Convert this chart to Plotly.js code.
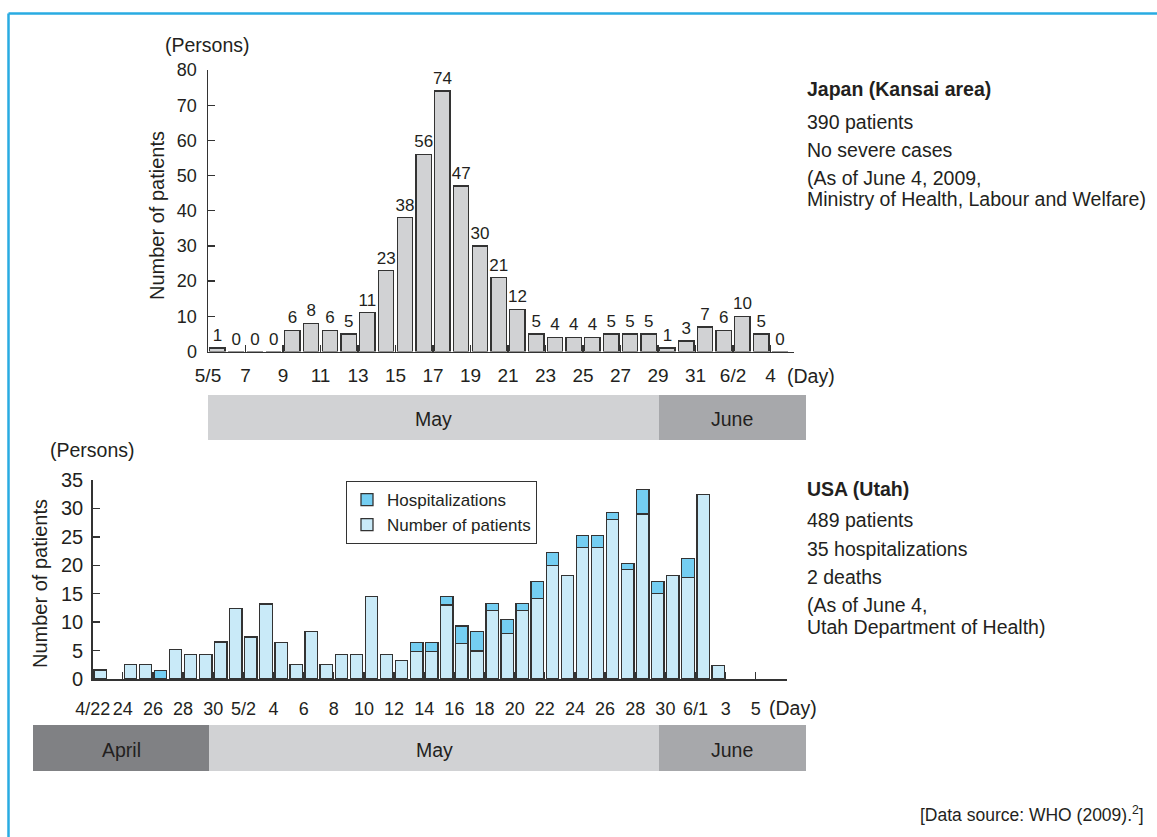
<!DOCTYPE html>
<html><head><meta charset="utf-8">
<script src="https://cdn.plot.ly/plotly-3.0.1.min.js"></script>
<style>html,body{margin:0;padding:0;background:#fff;} #chart{width:1157px;height:837px;}</style>
</head><body><div id="chart"></div>
<script>
// ---- Japan (Kansai area) ----
const japanDates = ['5/5','5/6','5/7','5/8','5/9','5/10','5/11','5/12','5/13','5/14','5/15','5/16','5/17','5/18','5/19','5/20','5/21','5/22','5/23','5/24','5/25','5/26','5/27','5/28','5/29','5/30','5/31','6/1','6/2','6/3','6/4'];
const japanPatients = [1,0,0,0,6,8,6,5,11,23,38,56,74,47,30,21,12,5,4,4,4,5,5,5,1,3,7,6,10,5,0];
const japanTickLabels = ['5/5','7','9','11','13','15','17','19','21','23','25','27','29','31','6/2','4'];

// ---- USA (Utah) ----
const utahDates = ['4/22','4/23','4/24','4/25','4/26','4/27','4/28','4/29','4/30','5/1','5/2','5/3','5/4','5/5','5/6','5/7','5/8','5/9','5/10','5/11','5/12','5/13','5/14','5/15','5/16','5/17','5/18','5/19','5/20','5/21','5/22','5/23','5/24','5/25','5/26','5/27','5/28','5/29','5/30','5/31','6/1','6/2','6/3','6/4','6/5'];
const utahPatients = [1.6,0,2.5,2.5,0,5.2,4.3,4.3,6.5,12.4,7.4,13.2,6.4,2.5,8.3,2.5,4.3,4.3,14.5,4.3,3.3,4.8,4.8,13.0,6.2,4.9,12.0,8.0,12.0,14.2,20.0,18.2,23.1,23.1,28.1,19.2,29.0,15.1,18.2,17.9,32.4,2.4,0,0,0];
const utahHospitalizations = [0,0,0,0,1.5,0,0,0,0,0,0,0,0,0,0,0,0,0,0,0,0,1.6,1.6,1.5,3.1,3.4,1.3,2.5,1.3,3.0,2.2,0,2.1,2.1,1.2,1.1,4.3,2.1,0,3.3,0,0,0,0,0];
const utahTickLabels = ['4/22','24','26','28','30','5/2','4','6','8','10','12','14','16','18','20','22','24','26','28','30','6/1','3','5'];

const W = 1157, H = 837;
const px = x => x / W;
const py = y => 1 - y / H;
const FONT = 'Liberation Sans, Arial, Helvetica, sans-serif';
const TXT = '#231f20';
const AX = '#333333';

const traces = [
  {
    type: 'bar', xaxis: 'x', yaxis: 'y', showlegend: false,
    x: japanDates.map((_, i) => i), y: japanPatients,
    hovertext: japanDates,
    text: japanPatients.map(String), textposition: 'outside', cliponaxis: false,
    constraintext: 'none',
    textfont: {size: 17, color: TXT, family: FONT},
    marker: {color: '#d1d2d4', line: {color: AX, width: 1.3}}
  },
  {
    type: 'bar', xaxis: 'x2', yaxis: 'y2', name: 'Number of patients',
    x: utahDates.map((_, i) => i), y: utahPatients.map(v => v || null),
    hovertext: utahDates,
    marker: {color: '#c9eaf8', line: {color: AX, width: 1.3}}
  },
  {
    type: 'bar', xaxis: 'x2', yaxis: 'y2', name: 'Hospitalizations',
    x: utahDates.map((_, i) => i), y: utahHospitalizations.map(v => v || null),
    hovertext: utahDates,
    marker: {color: '#74cef2', line: {color: AX, width: 1.3}}
  }
];

const axisCommon = {
  ticks: 'inside', ticklen: 7, tickwidth: 1.3, tickcolor: AX,
  showline: true, linecolor: AX, linewidth: 1.5,
  showgrid: false, zeroline: false, fixedrange: true,
  tickfont: {size: 17, color: TXT, family: FONT}
};

const ann = (x, y, text, opts = {}) => Object.assign({
  xref: 'paper', yref: 'paper', x: px(x), y: py(y), text: text,
  showarrow: false, xanchor: 'center', yanchor: 'middle',
  font: {size: 19.5, color: TXT, family: FONT}
}, opts);

const rect = (x0, y0, x1, y1, color) => ({
  type: 'rect', xref: 'paper', yref: 'paper', layer: 'below',
  x0: px(x0), x1: px(x1), y0: py(y1), y1: py(y0),
  fillcolor: color, line: {width: 0}
});

const layout = {
  width: W, height: H,
  margin: {l: 0, r: 0, t: 0, b: 0},
  paper_bgcolor: '#fff', plot_bgcolor: 'rgba(0,0,0,0)',
  font: {family: FONT, color: TXT},
  barmode: 'stack', bargap: 0.18,
  xaxis: Object.assign({}, axisCommon, {
    domain: [px(208), px(794)], range: [-0.5, 30.75], anchor: 'y',
    tickmode: 'array', tickvals: japanTickLabels.map((_, k) => 2 * k - 0.5), ticktext: japanTickLabels,
    tickfont: {size: 19, color: TXT, family: FONT}, tickangle: 0,
    ticklabelstandoff: 6
  }),
  yaxis: Object.assign({}, axisCommon, {
    domain: [py(351.5), py(70)], range: [0, 80], dtick: 10, anchor: 'x',
    tickfont: {size: 18, color: TXT, family: FONT},
    ticklabelstandoff: 6
  }),
  xaxis2: Object.assign({}, axisCommon, {
    domain: [px(92.7), px(786.7)], range: [-0.5, 45.55], anchor: 'y2',
    tickmode: 'array', tickvals: utahTickLabels.map((_, k) => 2 * k - 0.5), ticktext: utahTickLabels,
    tickfont: {size: 18, color: TXT, family: FONT}, tickangle: 0,
    ticklabelstandoff: 13
  }),
  yaxis2: Object.assign({}, axisCommon, {
    domain: [py(679), py(480)], range: [0, 35], dtick: 5, anchor: 'x2',
    tickfont: {size: 20, color: TXT, family: FONT},
    ticklabelstandoff: 4
  }),
  legend: {
    x: px(346), y: py(481), xanchor: 'left', yanchor: 'top',
    bordercolor: AX, borderwidth: 1, bgcolor: '#fff', itemwidth: 30,
    font: {size: 17, color: TXT, family: FONT}, traceorder: 'reversed'
  },
  shapes: [
    // frame
    {type: 'line', xref: 'paper', yref: 'paper', x0: px(8.5), x1: 1, y0: py(13.5), y1: py(13.5), line: {color: '#29abe2', width: 2.5}},
    {type: 'line', xref: 'paper', yref: 'paper', x0: px(8.5), x1: px(8.5), y0: py(13.5), y1: 0, line: {color: '#29abe2', width: 2.5}},
    // month bands (top)
    rect(208, 395, 659, 440, '#d1d2d4'),
    rect(659, 395, 806, 440, '#a7a8ab'),
    // month bands (bottom)
    rect(33, 725, 209, 771, '#808184'),
    rect(209, 725, 659, 771, '#d1d2d4'),
    rect(659, 725, 806, 771, '#a7a8ab')
  ],
  annotations: [
    ann(207, 45, '(Persons)'),
    ann(157, 216, 'Number of patients', {textangle: -90, font: {size: 20, color: TXT, family: FONT}}),
    ann(811, 376, '(Day)'),
    ann(433, 419, 'May'),
    ann(732, 419, 'June'),
    ann(92, 450, '(Persons)'),
    ann(40, 584, 'Number of patients', {textangle: -90, font: {size: 20, color: TXT, family: FONT}}),
    ann(793, 708, '(Day)'),
    ann(121, 750, 'April'),
    ann(434, 750, 'May'),
    ann(732, 750, 'June'),
    // Japan notes
    ann(805, 89, '<b>Japan (Kansai area)</b>', {xanchor: 'left'}),
    ann(805, 122, '390 patients', {xanchor: 'left'}),
    ann(805, 149.5, 'No severe cases', {xanchor: 'left'}),
    ann(805, 177.5, '(As of June 4, 2009,', {xanchor: 'left'}),
    ann(805, 199.5, 'Ministry of Health, Labour and Welfare)', {xanchor: 'left'}),
    // USA notes
    ann(805, 488.5, '<b>USA (Utah)</b>', {xanchor: 'left'}),
    ann(805, 520, '489 patients', {xanchor: 'left'}),
    ann(805, 549, '35 hospitalizations', {xanchor: 'left'}),
    ann(805, 577, '2 deaths', {xanchor: 'left'}),
    ann(805, 605, '(As of June 4,', {xanchor: 'left'}),
    ann(805, 627, 'Utah Department of Health)', {xanchor: 'left'}),
    // source
    ann(1146, 814, '[Data source: WHO (2009).<sup>2</sup>]', {xanchor: 'right', font: {size: 17.5, color: TXT, family: FONT}})
  ]
};

Plotly.newPlot('chart', traces, layout, {displayModeBar: false, staticPlot: true});
</script>
</body></html>
